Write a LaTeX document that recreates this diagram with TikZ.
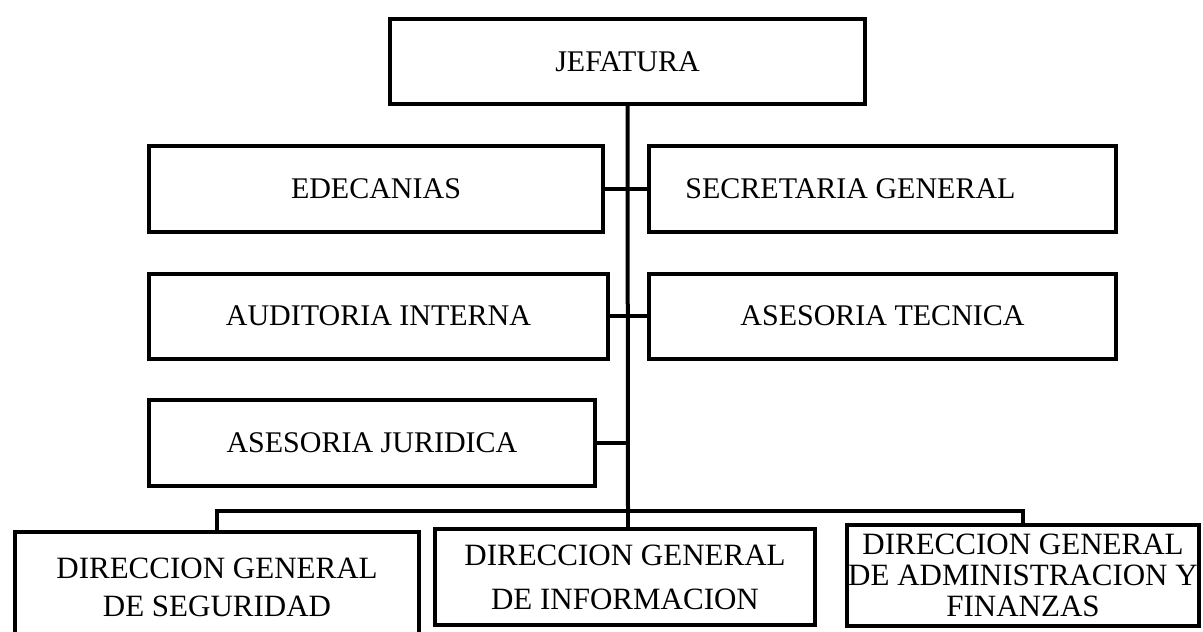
\documentclass[tikz,border=0pt]{standalone}
\usepackage{fontspec}
\setmainfont{Liberation Serif}
\begin{document}
\begin{tikzpicture}[x=1pt,y=-1pt]

      \tikzset{unit/.style={draw, rectangle, line width=4pt, inner sep=0pt, align=center, font=\fontsize{30}{36}\selectfont},
               link/.style={line width=4pt}}
      \useasboundingbox (0,0) rectangle (1203,632);
%% Boxes
      \node[unit, minimum width=475, minimum height=85] (jefatura) at (627.5,61.5) {JEFATURA};
      \node[unit, minimum width=454, minimum height=86] (edecanias) at (376,189) {EDECANIAS};
      \node[unit, minimum width=467, minimum height=86] (secretaria) at (882.5,189) {SECRETARIA GENERAL\hspace*{64pt}};
      \node[unit, minimum width=459, minimum height=85] (auditoria) at (378.5,316) {AUDITORIA INTERNA};
      \node[unit, minimum width=467, minimum height=85] (tecnica) at (882.5,316) {ASESORIA TECNICA};
      \node[unit, minimum width=446, minimum height=86] (juridica) at (372,443) {ASESORIA JURIDICA};
      \node[unit, minimum width=404, minimum height=111, font=\fontsize{31}{38}\selectfont] (seguridad) at (217,587.5) {DIRECCION GENERAL\\DE SEGURIDAD};
      \node[unit, minimum width=380, minimum height=96, font=\fontsize{31}{44}\selectfont] (informacion) at (625,577) {DIRECCION GENERAL\\DE INFORMACION};
      \node[unit, minimum width=352, minimum height=101, font=\fontsize{31}{31}\selectfont] (finanzas) at (1023,575.5) {DIRECCION GENERAL\\DE ADMINISTRACION Y\\FINANZAS};
%Lines
      \coordinate (bus) at (628,511);
      \draw[link] (jefatura.south) -- (bus);
      \draw[link] (edecanias.east) -- (edecanias.east -| bus) -- (secretaria.west);
      \draw[link] (auditoria.east) -- (auditoria.east -| bus) -- (tecnica.west);
      \draw[link] (juridica.east) -- (juridica.east -| bus);
      \draw[link] (seguridad.north) |- (bus) -| (finanzas.north);
      \draw[link] (bus) -- (bus |- informacion.north);

\end{tikzpicture}
\end{document}
